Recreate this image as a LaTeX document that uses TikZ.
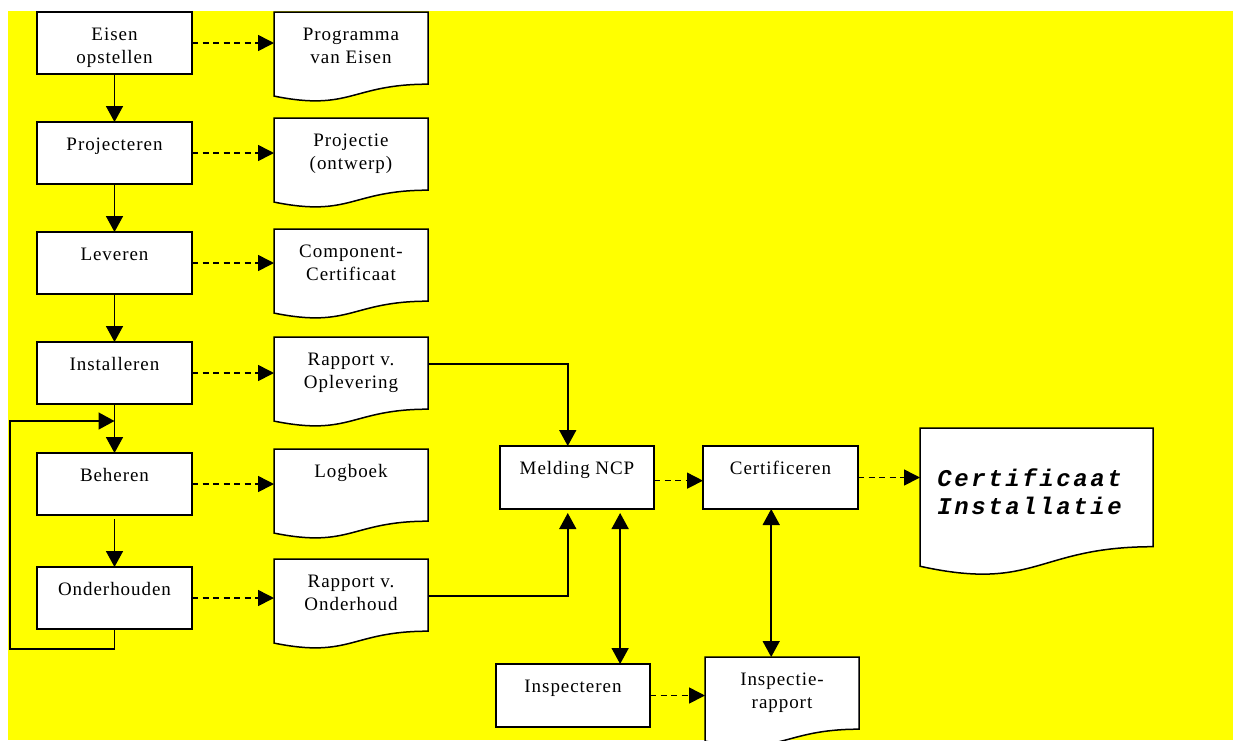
\documentclass[tikz,border=0pt]{standalone}
\usepackage{fontspec}
\setmainfont{Liberation Serif}[LetterSpace=5]
\newfontfamily\certfont{Liberation Mono}[LetterSpace=10.8]
\usetikzlibrary{arrows.meta,calc}
\pgfdeclarelayer{back}
\pgfdeclarelayer{docs}
\pgfsetlayers{back,docs,main}
\definecolor{bgyellow}{RGB}{255,255,0}
\newcommand{\ptext}[3]{\parbox[c][#2][t]{#1}{\centering\rule{0pt}{28.5pt}#3}}
\newcommand{\docpath}[1]{%
  \begin{pgfonlayer}{docs}
  \filldraw[docline] (#1.north west) -- (#1.north east) -- ($(#1.north east)!0.802!(#1.south east)$)
    .. controls ($(#1.north)!0.802!(#1.south)$) and ($(#1.north)!1.1075!(#1.south)$) ..
    ($(#1.north west)!0.934!(#1.south west)$) -- cycle;
  \end{pgfonlayer}}
\tikzset{
  box/.style={draw, fill=white, line width=1.5pt, inner sep=0pt, outer sep=0pt, anchor=north west,
    font=\fontsize{19}{23}\selectfont},
  doc/.style={inner sep=0pt, outer sep=0pt, anchor=north west, font=\fontsize{19}{23}\selectfont},
  docline/.style={fill=white, draw=black, line width=1.5pt},
  arr/.style={line width=1.6pt, -{Triangle[length=16pt,width=17pt]}},
  darr/.style={line width=1.6pt, dash pattern=on 6pt off 4.5pt, -{Triangle[length=16pt,width=16pt]}},
  dblarr/.style={line width=1.6pt, {Triangle[length=16pt,width=17pt]}-{Triangle[length=16pt,width=17pt]}}
}
\begin{document}
\begin{tikzpicture}[x=1pt,y=-1pt]
\useasboundingbox (0,0) rectangle (1233,740);
\begin{pgfonlayer}{back}
\fill[bgyellow] (8,11) rectangle (1233,740);
\end{pgfonlayer}

% left process column
\node[box] (eis) at (37,12)  {\ptext{155pt}{62pt}{Eisen\\opstellen}};
\node[box] (pro) at (37,122) {\ptext{155pt}{62pt}{Projecteren}};
\node[box] (lev) at (37,232) {\ptext{155pt}{62pt}{Leveren}};
\node[box] (ins) at (37,342) {\ptext{155pt}{62pt}{Installeren}};
\node[box] (beh) at (37,453) {\ptext{155pt}{62pt}{Beheren}};
\node[box] (ond) at (37,567) {\ptext{155pt}{62pt}{Onderhouden}};

% documents column
\node[doc] (pve) at (274,12)  {\ptext{154pt}{90pt}{Programma\\van Eisen}};
\node[doc] (prj) at (274,118) {\ptext{154pt}{90pt}{Projectie\\(ontwerp)}};
\node[doc] (cmp) at (274,229) {\ptext{154pt}{90pt}{Component-\\Certificaat}};
\node[doc] (rop) at (274,337) {\ptext{154pt}{90pt}{Rapport v.\\Oplevering}};
\node[doc] (log) at (274,449) {\ptext{154pt}{90pt}{Logboek}};
\node[doc] (ron) at (274,559) {\ptext{154pt}{90pt}{Rapport v.\\Onderhoud}};

% right part
\node[box] (mel) at (500,446) {\ptext{154pt}{63pt}{Melding NCP}};
\node[box] (cer) at (703,446) {\ptext{155pt}{63pt}{Certificeren}};
\node[box] (isp) at (496,664) {\ptext{154pt}{63pt}{Inspecteren}};
\node[doc] (irp) at (705,657) {\ptext{154pt}{90pt}{Inspectie-\\rapport}};
\node[doc] (cin) at (920,428) {\parbox[c][148pt][t]{233pt}{\centering\certfont\bfseries\itshape\fontsize{24}{28.5}\selectfont\rule{0pt}{58pt}\hspace*{-14pt}Certificaat\\\hspace*{-14pt}Installatie}};

\docpath{pve}\docpath{prj}\docpath{cmp}\docpath{rop}\docpath{log}\docpath{ron}\docpath{irp}\docpath{cin}

% vertical flow
\draw[arr] (eis.south) -- (pro.north);
\draw[arr] (pro.south) -- (lev.north);
\draw[arr] (lev.south) -- (ins.north);
\draw[arr] (ins.south) -- (beh.north);
\draw[arr, shorten <=4pt] (beh.south) -- (ond.north);
\coordinate (loopL) at (10,421);
\draw[arr] (ond.south) -- ++(0,20) -| (loopL) -- (loopL -| ins.south);

% dashed to documents
\draw[darr] (eis.east) -- (eis.east -| pve.west);
\draw[darr] (pro.east) -- (pro.east -| prj.west);
\draw[darr] (lev.east) -- (lev.east -| cmp.west);
\draw[darr] (ins.east) -- (ins.east -| rop.west);
\draw[darr] (beh.east) -- (beh.east -| log.west);
\draw[darr] (ond.east) -- (ond.east -| ron.west);

% to Melding NCP
\coordinate (melA) at ($(mel.north west)!0.44!(mel.north east)$);
\coordinate (melB) at ($(mel.south west)!0.44!(mel.south east)$);
\draw[arr] ($(rop.north east)!0.3!(rop.south east)$) -| (melA);
\draw[arr, shorten >=4pt] ($(ron.north east)!0.41!(ron.south east)$) -| (melB);

% double arrows
\coordinate (melC) at ($(mel.south west)!0.78!(mel.south east)$);
\draw[dblarr, shorten <=4pt] (melC) -- (melC |- isp.north);
\coordinate (cerC) at ($(cer.south west)!0.44!(cer.south east)$);
\draw[dblarr] (cerC) -- (cerC |- irp.north);

% dashed right
\coordinate (melD) at ($(mel.north east)!0.55!(mel.south east)$);
\draw[darr] (melD) -- (melD -| cer.west);
\draw[darr] (cer.east) -- (cer.east -| cin.west);
\draw[darr] (isp.east) -- (isp.east -| irp.west);
\end{tikzpicture}
\end{document}
